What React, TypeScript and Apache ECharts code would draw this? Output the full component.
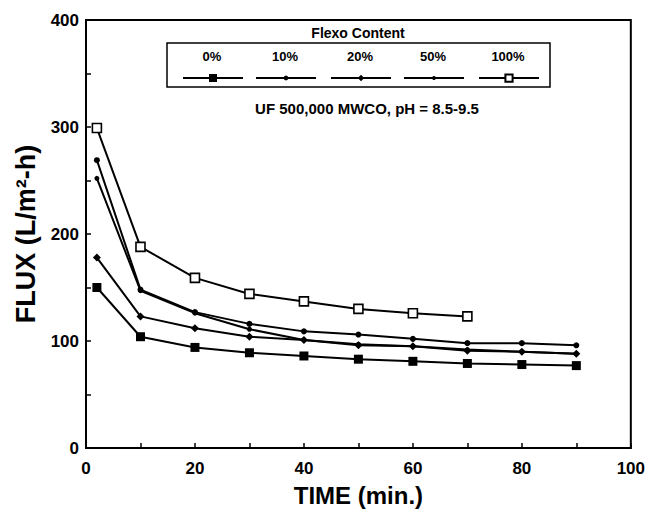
import React, { useEffect, useRef } from "react";
import * as echarts from "echarts";

// ---- data ----
const times = [2, 10, 20, 30, 40, 50, 60, 70, 80, 90];
const flexo0 = [150, 104, 94, 89, 86, 83, 81, 79, 78, 77];
const flexo10 = [269, 148, 127, 116, 109, 106, 102, 98, 98, 96];
const flexo20 = [178, 123, 112, 104, 101, 96, 95, 91, 90, 88];
const flexo50 = [252, 147, 126, 111, 101, 97, 95, 92, 90, 88];
const flexo100 = [299, 188, 159, 144, 137, 130, 126, 123];
const seriesNames = ["0%", "10%", "20%", "50%", "100%"];
const xTicks = [0, 20, 40, 60, 80, 100];
const yTicks = [0, 100, 200, 300, 400];

const FONT = "Liberation Sans, Arial, Helvetica, sans-serif";

export default function App() {
  const ref = useRef<HTMLDivElement | null>(null);

  useEffect(() => {
    if (!ref.current) return;
    const chart = echarts.init(ref.current, undefined, { renderer: "svg" });

    const pair = (vals: number[]) => vals.map((v, i) => [times[i], v]);
    const valuesList = [flexo0, flexo10, flexo20, flexo50, flexo100];
    const symbols = ["rect", "circle", "diamond", "circle", "rect"];
    const sizes = [9, 6, 8, 5, 9];
    const legendIconSizes = [10, 6, 8, 5, 9];

    const series = seriesNames.map((name, i) => ({
      name,
      type: "line",
      data: pair(valuesList[i]),
      symbol: symbols[i],
      symbolSize: sizes[i],
      showSymbol: true,
      lineStyle: { color: "#000", width: 2 },
      itemStyle:
        i === 4
          ? { color: "#fff", borderColor: "#000", borderWidth: 1.6 }
          : { color: "#000" },
      z: 3,
    }));

    const legendCenters = [212, 285, 360, 433, 508];
    const legendRowY = 78;

    const legends = seriesNames.map((name, i) => ({
      data: [name],
      left: legendCenters[i] - 30,
      top: legendRowY - legendIconSizes[i] / 2,
      itemWidth: 60,
      itemHeight: legendIconSizes[i],
      padding: 0,
      itemGap: 0,
      selectedMode: false,
      formatter: () => "",
      textStyle: { fontSize: 1 },
    }));

    const graphic: any[] = [
      {
        type: "rect",
        shape: { x: 167, y: 43, width: 383, height: 44 },
        style: { fill: "none", stroke: "#000", lineWidth: 1.5 },
        z: 10,
      },
      {
        type: "text",
        x: 358,
        y: 33,
        style: {
          text: "Flexo Content",
          font: `bold 14px ${FONT}`,
          fill: "#000",
          textAlign: "center",
          textVerticalAlign: "middle",
        },
        z: 10,
      },
      {
        type: "text",
        x: 367,
        y: 108,
        style: {
          text: "UF 500,000 MWCO, pH = 8.5-9.5",
          font: `bold 15px ${FONT}`,
          fill: "#000",
          textAlign: "center",
          textVerticalAlign: "middle",
        },
        z: 10,
      },
      ...seriesNames.map((name, i) => ({
        type: "text",
        x: legendCenters[i],
        y: 56,
        style: {
          text: name,
          font: `bold 13px ${FONT}`,
          fill: "#000",
          textAlign: "center",
          textVerticalAlign: "middle",
        },
        z: 10,
      })),
    ];

    chart.setOption({
      animation: false,
      backgroundColor: "#fff",
      grid: {
        left: 86,
        right: 17,
        top: 20,
        bottom: 61,
        show: true,
        borderColor: "#000",
        borderWidth: 2,
        backgroundColor: "transparent",
      },
      legend: legends,
      xAxis: {
        type: "value",
        min: xTicks[0],
        max: xTicks[xTicks.length - 1],
        interval: 20,
        name: "TIME (min.)",
        nameLocation: "middle",
        nameGap: 35,
        nameTextStyle: {
          fontFamily: FONT,
          fontWeight: "bold",
          fontSize: 24,
          color: "#000",
        },
        axisLine: { lineStyle: { color: "#000", width: 2 } },
        axisTick: { inside: true, length: 5, lineStyle: { color: "#000", width: 1.5 } },
        minorTick: { show: true, splitNumber: 2, length: 5, lineStyle: { color: "#000", width: 1.5 } },
        splitLine: { show: false },
        axisLabel: {
          margin: 12,
          fontFamily: FONT,
          fontWeight: "bold",
          fontSize: 17,
          color: "#000",
        },
      },
      yAxis: {
        type: "value",
        min: yTicks[0],
        max: yTicks[yTicks.length - 1],
        interval: 100,
        name: "FLUX (L/m²-h)",
        nameLocation: "middle",
        nameRotate: 90,
        nameGap: 44,
        nameTextStyle: {
          fontFamily: FONT,
          fontWeight: "bold",
          fontSize: 27,
          color: "#000",
          padding: [0, 0, 0, 0],
        },
        axisLine: { lineStyle: { color: "#000", width: 2 } },
        axisTick: { inside: true, length: 5, lineStyle: { color: "#000", width: 1.5 } },
        minorTick: { show: true, splitNumber: 2, length: 5, lineStyle: { color: "#000", width: 1.5 } },
        splitLine: { show: false },
        axisLabel: {
          margin: 7,
          fontFamily: FONT,
          fontWeight: "bold",
          fontSize: 17,
          color: "#000",
        },
      },
      series,
      graphic,
    } as any);

    return () => chart.dispose();
  }, []);

  return (
    <div
      ref={ref}
      style={{ position: "fixed", left: 0, top: 0, width: 648, height: 512, background: "#fff" }}
    />
  );
}
